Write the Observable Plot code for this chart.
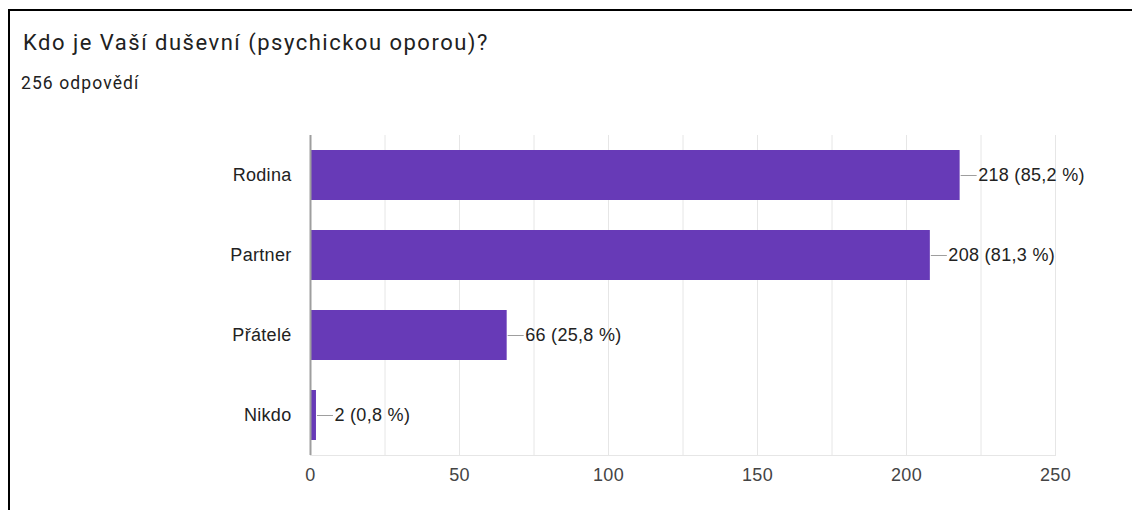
<!DOCTYPE html>
<html>
<head>
<meta charset="utf-8">
<script src="https://cdn.jsdelivr.net/npm/d3@7"></script>
<script src="https://cdn.jsdelivr.net/npm/@observablehq/plot@0.6"></script>
<style>
  html, body { margin: 0; padding: 0; background: #fff; width: 1132px; height: 510px; overflow: hidden; }
  #frame { position: absolute; left: 8px; top: 9px; width: 1140px; height: 600px; border: 2px solid #000; box-sizing: content-box; }
  #title { position: absolute; left: 23px; top: 32px; font: 22px/1 Roboto, sans-serif; letter-spacing: 1.5px; color: #212121; white-space: nowrap; }
  #subtitle { position: absolute; left: 21px; top: 75px; font: 17.5px/1 Roboto, sans-serif; letter-spacing: 1.1px; color: #212121; white-space: nowrap; }
  #chart { position: absolute; left: 0; top: 110px; }
  #chart svg text { letter-spacing: 0.3px; }
</style>
</head>
<body>
<div id="frame"></div>
<div id="title">Kdo je Vaší duševní (psychickou oporou)?</div>
<div id="subtitle">256 odpovědí</div>
<div id="chart"></div>
<script>
const categories = ["Rodina", "Partner", "Přátelé", "Nikdo"];
const counts = [218, 208, 66, 2];
const percents = ["85,2", "81,3", "25,8", "0,8"];
const xTicks = [0, 50, 100, 150, 200, 250];
const gridTicks = [0, 25, 50, 75, 100, 125, 150, 175, 200, 225, 250];

const data = categories.map((c, i) => ({
  category: c,
  value: counts[i],
  label: `${counts[i]} (${percents[i]} %)`
}));

const chart = Plot.plot({
  width: 1132,
  height: 400,
  marginLeft: 310,
  marginRight: 77,
  marginTop: 25,
  marginBottom: 55,
  style: { fontFamily: "'Liberation Sans', Arial, sans-serif", fontSize: "18px", color: "#222", background: "transparent" },
  x: { domain: [0, 250], ticks: xTicks },
  y: { domain: categories, paddingInner: 0.375, paddingOuter: 0.1875 },
  marks: [
    Plot.gridX(gridTicks, { stroke: "#e6e6e6", strokeOpacity: 1 }),
    Plot.frame({ anchor: "bottom", stroke: "#e6e6e6", strokeOpacity: 1 }),
    Plot.barX(data, { y: "category", x: "value", fill: "#673ab7" }),
    Plot.ruleY(data, { y: "category", x1: "value", x2: "value", insetRight: -17, insetLeft: 1, stroke: "#9e9e9e" }),
    Plot.text(data, { y: "category", x: "value", text: "label", textAnchor: "start", dx: 18, fill: "#222", fontSize: 18 }),
    Plot.ruleX([0], { stroke: "#9e9e9e", strokeWidth: 2 }),
    Plot.axisX(xTicks, { tickSize: 0, tickPadding: 13, fill: "#444", fontSize: 18, label: null }),
    Plot.axisY(categories, { tickSize: 0, tickPadding: 19, fill: "#222", fontSize: 18, label: null })
  ]
});
document.getElementById("chart").appendChild(chart);
</script>
</body>
</html>
